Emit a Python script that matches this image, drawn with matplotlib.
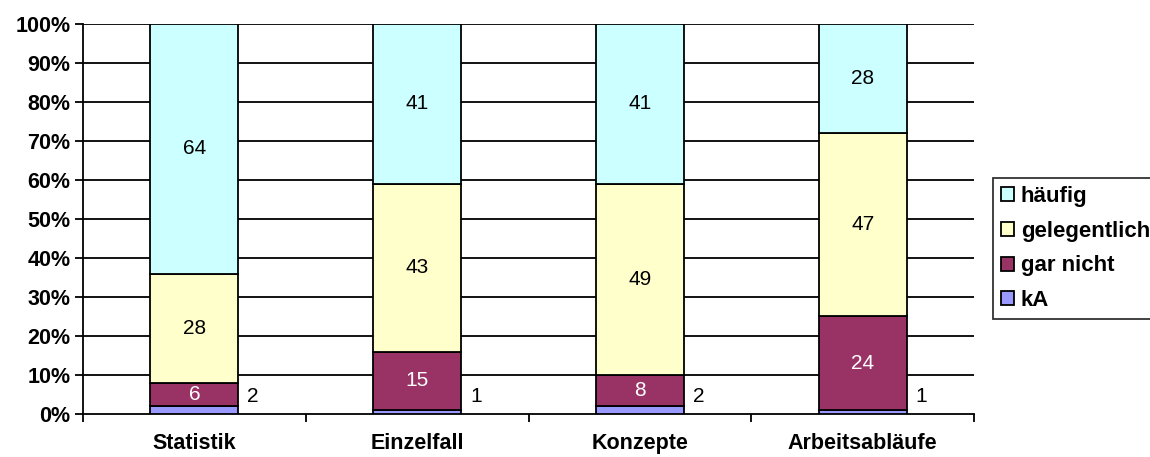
import numpy as np
import matplotlib as mpl
import matplotlib.pyplot as plt

mpl.rcParams.update({
    "font.family": ["Liberation Sans", "DejaVu Sans"],
    "font.size": 15,
})

categories = ["Statistik", "Einzelfall", "Konzepte", "Arbeitsabläufe"]
series = ["kA", "gar nicht", "gelegentlich", "häufig"]
ka = [2, 1, 2, 1]
gar_nicht = [6, 15, 8, 24]
gelegentlich = [28, 43, 49, 47]
haeufig = [64, 41, 41, 28]
values = [ka, gar_nicht, gelegentlich, haeufig]
colors = ["#9999FF", "#993366", "#FFFFCC", "#CCFFFF"]
text_colors = ["black", "white", "black", "black"]

fig = plt.figure(figsize=(11.5, 4.57), dpi=100)
ax = fig.add_axes([0.0722, 0.0941, 0.7748, 0.8534])

x = np.arange(len(categories))
width = 0.395

# gridlines behind bars
for yv in range(10, 101, 10):
    ax.axhline(yv, color="black", linewidth=1.3, zorder=1)

bottom = np.zeros(len(categories))
handles = []
for i, (name, vals) in enumerate(zip(series, values)):
    vals = np.array(vals, dtype=float)
    bars = ax.bar(x, vals, width, bottom=bottom, color=colors[i],
                  edgecolor="black", linewidth=1.3, zorder=3, label=name)
    handles.append(bars)
    for xi, b, v in zip(x, bottom, vals):
        if i == 0:
            # small kA values sit beside the bar
            ax.text(xi + width / 2 + 0.04, 4.4, f"{v:.0f}", ha="left",
                    va="center", fontsize=15, color="black", zorder=4)
        else:
            ax.text(xi, b + v / 2, f"{v:.0f}", ha="center", va="center",
                    fontsize=15, color=text_colors[i], zorder=4)
    bottom += vals

ax.set_xlim(-0.5, len(categories) - 0.5)
ax.set_ylim(0, 100)
ax.set_yticks(range(0, 101, 10))
ax.set_yticklabels([f"{v}%" for v in range(0, 101, 10)],
                   fontweight="bold", fontsize=15.5)
ax.set_xticks(x)
ax.set_xticklabels(categories, fontweight="bold", fontsize=15.5)
ax.tick_params(axis="x", length=0, pad=14)
ax.set_xticks(np.arange(-0.5, len(categories), 1.0), minor=True)
ax.tick_params(axis="x", which="minor", length=6, width=1.3, direction="out")
ax.tick_params(axis="y", length=6, width=1.3, direction="out", pad=3)

for s in ("top", "right"):
    ax.spines[s].set_visible(False)
ax.spines["left"].set_linewidth(1.3)
ax.spines["bottom"].set_linewidth(1.3)

leg = fig.legend(handles=handles[::-1], labels=series[::-1],
                 loc="lower left", bbox_to_anchor=(0.8635, 0.302),
                 frameon=True, fancybox=False, edgecolor="black",
                 prop={"weight": "bold", "size": 16},
                 handlelength=0.6, handleheight=0.6, handletextpad=0.3,
                 labelspacing=0.62, borderpad=0.35, borderaxespad=0)
leg.get_frame().set_linewidth(1.3)

fig.savefig("out.png", dpi=100)
